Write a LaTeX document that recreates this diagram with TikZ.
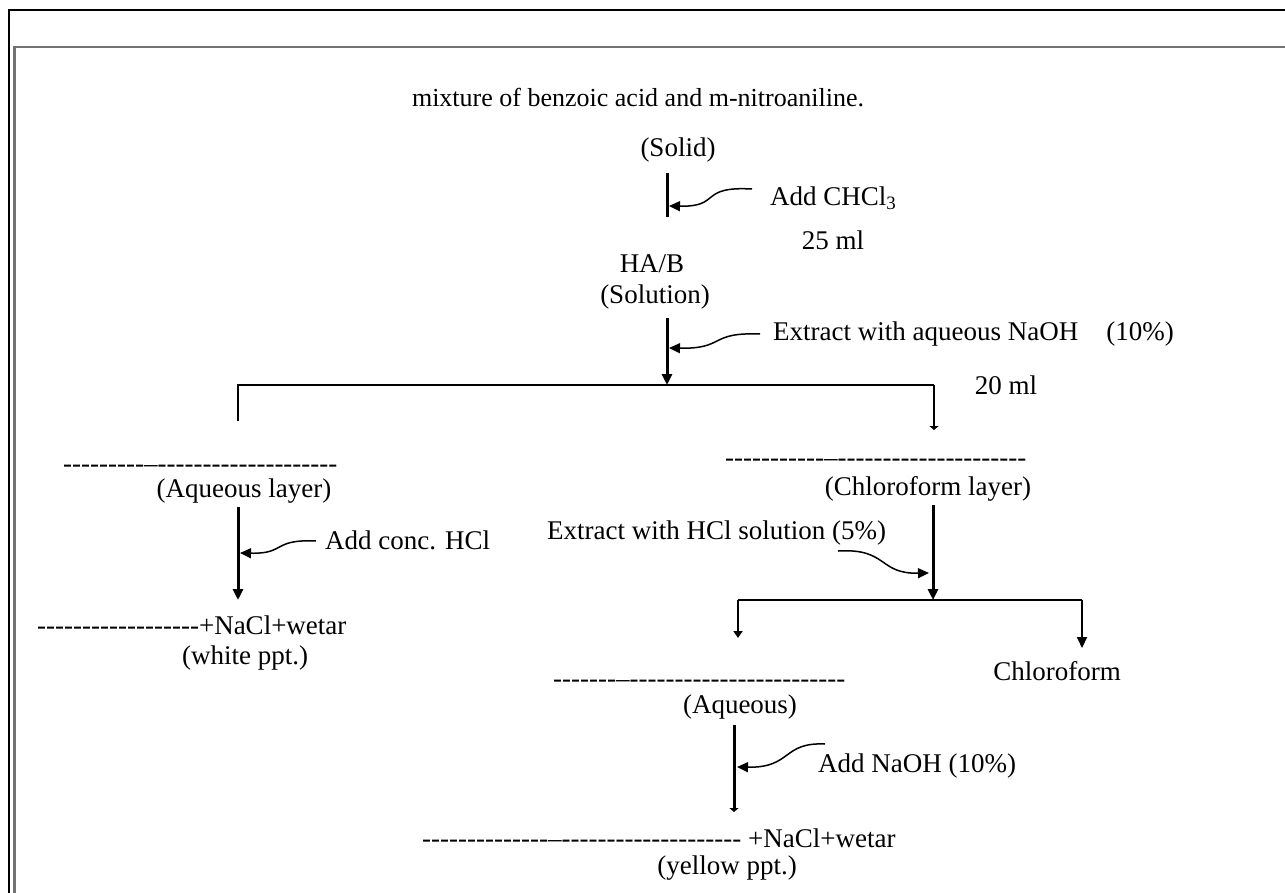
\documentclass[tikz,border=0pt]{standalone}
\usepackage{fontspec}
\setmainfont{Liberation Serif}
\newfontfamily\hyfont{Liberation Serif}
\usetikzlibrary{arrows.meta,calc}
\newcount\hycnt
\newcommand\hyrun[1]{{\hyfont\hycnt=0 \loop-\kern0pt\advance\hycnt by 1 \ifnum\hycnt<#1\repeat}}
\begin{document}
\begin{tikzpicture}[x=1pt,y=-1pt,
  lbl/.style={inner sep=0pt, font=\fontsize{27}{32}\selectfont},
  vline/.style={line width=3pt},
  hline/.style={line width=2pt},
  curvy/.style={line width=1.5pt,-{Triangle[length=11pt,width=10pt]}},
  tip/.style={-{Triangle[length=11pt,width=10pt]}},
  smalltip/.style={-{Triangle[length=7pt,width=9pt]}},
  flat/.style={-{Triangle[length=4pt,width=9pt]}},
]
\useasboundingbox (0,0) rectangle (1285,893);
% frame
\draw[line width=2.2pt] (9,895) -- (9,10) -- (1290,10);
\draw[line width=2.2pt,black!55] (14.5,895) -- (14.5,47) -- (1290,47);

% top
\node[lbl,font=\fontsize{26}{30}\selectfont] (title) at (638,98) {mixture of benzoic acid and m-nitroaniline.};
\node[lbl] (solid) at (678,150) {(Solid)};
\coordinate (v1a) at (667,173); \coordinate (v1b) at (667,217);
\draw[vline] (v1a) -- (v1b);
\node[lbl,anchor=west] (addchcl) at (770,198) {Add CHCl\textsubscript{3}};
\coordinate (c1s) at (752,189); \coordinate (c1t) at (669,206);
\draw[curvy] (c1s) .. controls (698,186) and (722,207) .. (c1t);
\node[lbl] (ml25) at (833,240) {25 ml};
\node[lbl] (hab) at (652,264) {HA/B};
\node[lbl] (soln) at (655,297) {(Solution)};
\coordinate (v2a) at (667,318);
\coordinate (j1) at (667,385);
\draw[vline,tip] (v2a) -- (j1);
\node[lbl,anchor=west] (extnaoh) at (773,334) {Extract with aqueous NaOH};
\node[lbl] (p10) at (1140,334) {(10\%)};
\coordinate (c2s) at (760,334); \coordinate (c2t) at (669,348);
\draw[curvy] (c2s) .. controls (708,332) and (726,349) .. (c2t);
\node[lbl] (ml20) at (1006,385) {20 ml};
\coordinate (jL) at (238,385); \coordinate (jR) at (934,385);
\coordinate (dL) at (238,421); \coordinate (dR) at (934,430);
\draw[hline] (dL) -- (jL) -- (jR);
\draw[hline,flat] (jR) -- (dR);

% left branch
\node[lbl,anchor=base west] (dashA) at (63,472) {\hyrun{9}–\hyrun{20}};
\node[lbl] (aqlayer) at (244,491) {(Aqueous layer)};
\coordinate (v3a) at (238,507); \coordinate (v3b) at (238,600);
\draw[vline,tip] (v3a) -- (v3b);
\node[lbl,anchor=west] (addhcl) at (325,540) {Add conc. HCl};
\coordinate (c3s) at (316,541); \coordinate (c3t) at (240,553);
\draw[curvy] (c3s) .. controls (272,539) and (286,554) .. (c3t);
\node[lbl,anchor=base west] (prodA) at (37,634) {\hyrun{18}+NaCl+wetar};
\node[lbl] (white) at (245,658) {(white ppt.)};

% right branch
\node[lbl,anchor=base west] (dashB) at (725,466) {\hyrun{11}–\hyrun{21}};
\node[lbl] (chlayer) at (928,489) {(Chloroform layer)};
\coordinate (v4a) at (933,505); \coordinate (j2) at (933,600);
\draw[vline,tip] (v4a) -- (j2);
\node[lbl,anchor=west] (exthcl) at (547,533) {Extract with HCl solution (5\%)};
\coordinate (c4s) at (838,551); \coordinate (c4t) at (929,573);
\draw[curvy] (c4s) .. controls (888,548) and (878,574) .. (c4t);
\coordinate (j2L) at (738,600); \coordinate (j2R) at (1082,600);
\coordinate (d2L) at (738,638); \coordinate (d2R) at (1082,648);
\draw[hline,smalltip] (j2L) -- (d2L);
\draw[hline] (j2L) -- (j2R);
\draw[hline,tip] (j2R) -- (d2R);
\node[lbl] (chloro) at (1057,671) {Chloroform};
\node[lbl,anchor=base west] (dashC) at (553,687) {\hyrun{7}–\hyrun{24}};
\node[lbl] (aq) at (740,707) {(Aqueous)};
\coordinate (v5a) at (734,725); \coordinate (v5b) at (734,812);
\draw[vline,flat] (v5a) -- (v5b);
\node[lbl,anchor=west] (addnaoh) at (818,766) {Add NaOH (10\%)};
\coordinate (c5s) at (825,744); \coordinate (c5t) at (737,767);
\draw[curvy] (c5s) .. controls (782,742) and (792,768) .. (c5t);
\node[lbl,anchor=base west] (prodB) at (422,847) {\hyrun{14}–\hyrun{20} +NaCl+wetar};
\node[lbl] (yellow) at (727,868) {(yellow ppt.)};
\end{tikzpicture}
\end{document}
